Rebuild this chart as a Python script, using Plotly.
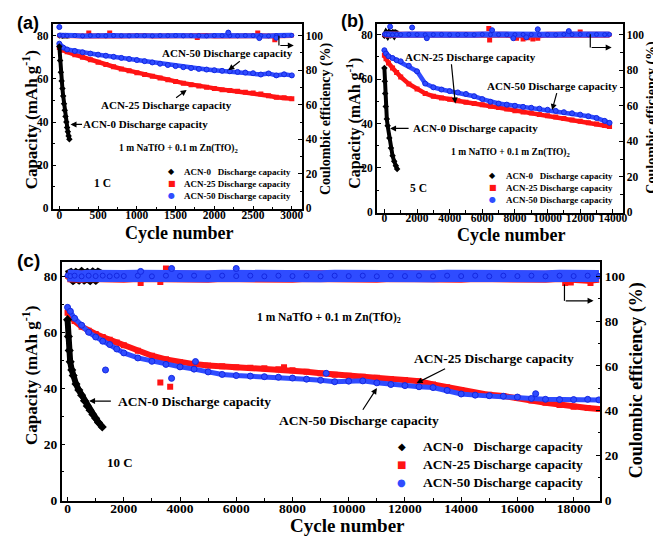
import plotly.graph_objects as go

# ======================= DATA =======================
# ---- (a) 1 C ----
a_cyc0 = [0, 10, 20, 30, 40, 50, 60, 70, 80, 90, 100, 110, 120, 130]
a_cap0 = [75, 68.5, 63, 59, 55.5, 52, 48.5, 45.5, 42.5, 40, 37.5, 35.5, 33.5, 32]
a_eff0_cyc = [0, 20, 40, 60, 80, 100, 120, 130]
a_eff0 = [99.8, 100.2, 99.8, 100, 100.2, 99.8, 100, 100]
a_cyc = [0, 50, 100, 200, 300, 400, 500, 600, 700, 800, 900, 1000, 1100, 1200, 1300, 1400,
         1500, 1600, 1700, 1800, 1900, 2000, 2100, 2200, 2300, 2400, 2500, 2600, 2700, 2800, 2900, 3000]
a_cap25 = [74.5, 73.3, 72.5, 71.2, 70.0, 68.8, 67.7, 66.6, 65.6, 64.6, 63.7, 62.8, 62.0, 61.2, 60.4, 59.6,
           58.8, 58.0, 57.3, 56.7, 56.1, 55.5, 55.0, 54.6, 54.2, 53.8, 53.4, 53.0, 52.2, 51.5, 51.2, 50.8]
a_cap50 = [76.3, 74.5, 73.6, 72.9, 72.3, 71.7, 71.2, 70.7, 70.2, 69.7, 69.2, 68.7, 68.2, 67.6, 67.0, 66.4,
           65.9, 65.4, 65.0, 64.6, 64.3, 64.0, 63.7, 63.5, 63.2, 62.9, 62.6, 62.0, 62.5, 61.6, 62.1, 61.6]
a_eff25 = [100.1, 99.9, 100.1, 100, 99.9, 100.1, 100, 100.1, 100, 99.9, 100.1, 100, 100.1, 99.9, 100, 100.1,
           99.9, 100.1, 100, 100, 100.1, 99.9, 100, 100.1, 99.9, 100.1, 100, 100, 99.9, 100.1, 100, 100.1]
a_eff50 = [100.3, 100.1, 100, 100.1, 99.9, 100.1, 100, 99.9, 100.1, 100, 99.9, 100.1, 100, 99.9, 100.1, 100,
           100.1, 99.9, 100, 100.1, 99.9, 100.1, 100, 100, 99.9, 100.1, 100, 100.1, 99.9, 100.1, 100, 100.2]
a_out25_cyc = [380, 650, 1780, 2560, 2780]
a_out25_eff = [101.5, 101.6, 99, 101.5, 97.6]
a_out50_cyc = [0, 2180, 2580, 2800]
a_out50_eff = [105, 101.8, 98.6, 98.8]

# ---- (b) 5 C ----
b_cyc0 = [0, 25, 50, 85, 150, 200, 300, 400, 500, 600, 700, 780]
b_cap0 = [65, 59, 53.5, 47.7, 42, 39, 33.5, 29, 25.5, 23, 21, 19.5]
b_eff0_cyc = [0, 100, 200, 300, 400, 500, 600, 700, 800]
b_eff0 = [99, 100.8, 99.5, 101, 100, 100.8, 99.6, 101, 100.5]
b_cyc = [0, 100, 250, 500, 750, 1000, 1500, 2000, 2500, 3000, 3500, 4000, 4500, 5000, 5500, 6000,
         6500, 7000, 7500, 8000, 8500, 9000, 9500, 10000, 10500, 11000, 11500, 12000, 12500, 13000, 13500, 13800]
b_cap25 = [70.7, 69.2, 67.3, 65, 63, 61, 57.8, 55.5, 53.5, 52.3, 51.5, 50.9, 50.3, 49.6, 49, 48.4,
           47.8, 47.2, 46.5, 45.8, 45.2, 44.7, 44.1, 43.5, 42.9, 42.3, 41.6, 41, 40.4, 39.8, 39.1, 38.7]
b_cap50 = [73, 71.5, 70.3, 69.5, 68.5, 68, 66, 63.5, 58, 56.3, 55.3, 54.6, 54, 53.3, 52.3, 51,
           49.8, 49, 48.5, 48, 47.5, 47.1, 46.7, 46.2, 45.7, 45.1, 44.6, 44, 43.3, 42.5, 41.2, 40.3]
b_eff25 = [100, 100.1, 99.9, 100, 100.1, 99.9, 100, 100.1, 99.9, 100, 100.1, 99.9, 100.1, 100, 99.9, 100.1,
           100, 100, 99.9, 99.6, 99.4, 99.5, 99.6, 100, 100.1, 99.9, 100, 100.1, 100, 99.9, 100.1, 100]
b_eff50 = [100.2, 100.1, 100, 99.9, 100.1, 100, 100.1, 100, 99.9, 100, 100.1, 99.9, 100, 100.1, 99.9, 100.1,
           100, 100, 99.9, 100, 100.1, 100, 99.9, 100, 99.9, 100.1, 100, 100.1, 99.9, 100.1, 100, 100.1]
b_out25_cyc = [6400, 6450, 8100, 8500, 8800, 9100, 9400, 12000]
b_out25_eff = [103.5, 97, 98, 97.5, 98.2, 97.6, 98, 101.5]
b_out50_cyc = [350, 1700, 2600, 6600, 7900, 8700, 9400, 11300]
b_out50_eff = [104.5, 104, 98, 102.5, 98, 98.5, 103, 102]

# ---- (c) 10 C ----
c_cyc0 = [0, 30, 60, 94, 150, 200, 300, 400, 500, 600, 700, 800, 900, 1000, 1100, 1235]
c_cap0 = [64.5, 58.5, 53.5, 49.4, 46.5, 44.5, 41.5, 39.3, 37.5, 35.5, 33.6, 32.1, 30.6, 29.2, 27.7, 26.1]
c_eff0_cyc = [0, 100, 200, 300, 400, 500, 600, 700, 800, 900, 1000, 1100, 1200]
c_eff0 = [100, 100.6, 99.5, 100.5, 99.6, 100.7, 99.6, 100.5, 99.5, 100.6, 99.6, 100.7, 100]
c_cyc = [0, 100, 250, 500, 750, 1000, 1250, 1500, 1750, 2000, 2500, 3000, 3500, 4000, 4500, 5000,
         5500, 6000, 6500, 7000, 7500, 8000, 8500, 9000, 9500, 10000, 10500, 11000, 11500, 12000,
         12500, 13000, 13500, 14000, 14500, 15000, 15500, 16000, 16500, 17000, 17500, 18000, 18500, 18900]
c_cap25 = [67, 65.5, 64, 62, 60.5, 59.4, 58.3, 57.3, 56.3, 55.3, 53.4, 51.6, 50.3, 49.3, 48.6, 48.1,
           47.8, 47.5, 47.3, 47.1, 46.8, 46.4, 45.9, 45.3, 44.8, 44.4, 44.1, 43.7, 43.3, 42.9,
           42.5, 41.3, 40.3, 39.3, 38.3, 37.6, 37.2, 36.6, 35.6, 34.8, 34, 33.3, 32.9, 32.5]
c_cap50 = [68.9, 67.5, 65, 62.5, 60, 58.3, 56.8, 55.6, 54, 52.6, 50.8, 49.6, 48.5, 47.6, 46.8, 45.8,
           44.9, 44.5, 44.3, 44.1, 43.9, 43.6, 43.2, 42.8, 42.3, 42.5, 42.6, 41.9, 41.3, 40.9,
           40.5, 40.2, 39.2, 37.9, 37.5, 37.3, 37.1, 36.8, 36.3, 36, 35.9, 35.9, 36, 35.8]
c_eff25 = [100, 99.8, 100.1, 99.8, 100.1, 99.8, 100.1, 99.8, 100.1, 99.8, 100.1, 99.8, 100.1, 99.8, 100.1, 99.8,
           100.1, 99.8, 100.1, 99.8, 100.1, 99.8, 100.1, 99.8, 100.1, 99.8, 100.1, 99.8, 100.1, 99.8,
           100.1, 99.8, 100.1, 99.8, 100.1, 99.8, 100.1, 99.8, 100.1, 99.8, 100.1, 99.5, 99.4, 99.8]
c_eff50 = [100.4, 100.1, 100.3, 100, 100.3, 100.1, 100.3, 100, 100.3, 100.1, 100.3, 100, 100.3, 100.1, 100.3, 100,
           100.3, 100.1, 100.3, 100, 100.3, 100.1, 100.3, 100, 100.3, 100.1, 100.3, 100, 100.3, 100.1,
           100.3, 100, 100.3, 100.1, 100.3, 100, 100.3, 100.1, 100.3, 100, 100.3, 100.1, 100.3, 100.2]
c_out25_eff_cyc = [2600, 3300, 3500, 17700, 17900, 18600]
c_out25_eff = [97, 97.5, 103.5, 97, 97.2, 97]
c_out50_eff_cyc = [2600, 3700, 6000]
c_out50_eff = [102.2, 103.5, 103.5]
c_out25_cyc = [3300, 3650, 7700]
c_out25_cap = [42, 40.5, 47.5]
c_out50_cyc = [1350, 3700, 4550, 9200, 16650]
c_out50_cap = [46.5, 43.5, 49.5, 45.3, 38]

legend_labels = ["ACN-0\u00a0\u00a0\u00a0Discharge capacity",
                 "ACN-25 Discharge capacity",
                 "ACN-50 Discharge capacity"]

# ======================= STYLE / LAYOUT =======================
W, H = 661, 538
SERIF = "Liberation Serif, Times New Roman, Times, DejaVu Serif, serif"
SANS = "Liberation Sans, Arial, DejaVu Sans, sans-serif"
BLACK = "#000000"
RED = "#ff1414"
BLUE = "#2f4cff"
BLUE_EDGE = "#1428e0"


def px(x):
    return x / W


def py(y):
    return 1 - y / H


fig = go.Figure()


def series(xa, ya, x, y, color, symbol, size, lw, edge=None, mode="lines+markers"):
    fig.add_trace(go.Scatter(
        x=x, y=y, xaxis=xa, yaxis=ya, mode=mode,
        line=dict(color=color, width=lw),
        marker=dict(symbol=symbol, size=size, color=color,
                    line=dict(color=edge if edge else color, width=1 if edge else 0)),
        showlegend=False, hoverinfo="skip"))


def dots(xa, ya, x, y, color, symbol, size, edge=None):
    series(xa, ya, x, y, color, symbol, size, 0, edge, mode="markers")


# ---- panel (a)
series("x", "y2", a_eff0_cyc, a_eff0, BLACK, "diamond", 4, 5)
series("x", "y2", a_cyc, a_eff25, RED, "square", 4, 5)
dots("x", "y2", a_out25_cyc, a_out25_eff, RED, "square", 5)
series("x", "y2", a_cyc, a_eff50, BLUE, "circle", 4, 5, BLUE_EDGE)
dots("x", "y2", a_out50_cyc, a_out50_eff, BLUE, "circle", 5, BLUE_EDGE)
series("x", "y", a_cyc, a_cap25, RED, "square", 5, 4.5)
series("x", "y", a_cyc, a_cap50, BLUE, "circle", 5, 4.5, BLUE_EDGE)
series("x", "y", a_cyc0, a_cap0, BLACK, "diamond", 5, 4)
# ---- panel (b)
series("x2", "y4", b_eff0_cyc, b_eff0, BLACK, "diamond", 4, 6)
series("x2", "y4", b_cyc, b_eff25, RED, "square", 4, 6)
dots("x2", "y4", b_out25_cyc, b_out25_eff, RED, "square", 5)
series("x2", "y4", b_cyc, b_eff50, BLUE, "circle", 4, 6, BLUE_EDGE)
dots("x2", "y4", b_out50_cyc, b_out50_eff, BLUE, "circle", 5, BLUE_EDGE)
series("x2", "y3", b_cyc, b_cap25, RED, "square", 5, 4.5)
series("x2", "y3", b_cyc, b_cap50, BLUE, "circle", 5, 4.5, BLUE_EDGE)
series("x2", "y3", b_cyc0, b_cap0, BLACK, "diamond", 5, 4)
# ---- panel (c)
series("x3", "y6", c_eff0_cyc, c_eff0, BLACK, "diamond", 5, 12)
series("x3", "y6", c_cyc, c_eff25, RED, "square", 5, 12)
dots("x3", "y6", c_out25_eff_cyc, c_out25_eff, RED, "square", 6)
series("x3", "y6", c_cyc, c_eff50, BLUE, "circle", 5, 12, BLUE_EDGE)
dots("x3", "y6", c_out50_eff_cyc, c_out50_eff, BLUE, "circle", 6, BLUE_EDGE)
series("x3", "y5", c_cyc, c_cap25, RED, "square", 6, 6)
dots("x3", "y5", c_out25_cyc, c_out25_cap, RED, "square", 6)
series("x3", "y5", c_cyc, c_cap50, BLUE, "circle", 6, 5, BLUE_EDGE)
dots("x3", "y5", c_out50_cyc, c_out50_cap, BLUE, "circle", 6, BLUE_EDGE)
series("x3", "y5", c_cyc0, c_cap0, BLACK, "diamond", 7, 6)


def tfont(s):
    return dict(family=SERIF, size=s, color="black", weight="bold")


def xax(l, r, rng, dtick, anchor, fs, standoff):
    return dict(domain=[px(l), px(r)], range=rng, anchor=anchor, tick0=0, dtick=dtick,
                tickformat="d", ticklabelstandoff=standoff,
                ticks="inside", ticklen=4, tickwidth=1.2, tickcolor="black",
                showline=True, linecolor="black", linewidth=1.5, mirror=True,
                showgrid=False, zeroline=False, tickfont=tfont(fs),
                minor=dict(ticks="inside", ticklen=2.5, tickwidth=1, tickcolor="black",
                           tick0=0, dtick=dtick / 2))


def yax(top, bot, rng, anchor, fs, side="left", overlay=None):
    d = dict(range=rng, anchor=anchor, tick0=0, dtick=20, side=side, tickformat="d",
             ticks="inside", ticklen=4, tickwidth=1.2, tickcolor="black",
             showline=True, linecolor="black", linewidth=1.5,
             showgrid=False, zeroline=False, tickfont=tfont(fs),
             minor=dict(ticks="inside", ticklen=2.5, tickwidth=1, tickcolor="black",
                        tick0=0, dtick=10))
    if overlay:
        d["overlaying"] = overlay
    else:
        d["domain"] = [py(bot), py(top)]
    return d


fig.update_layout(
    width=W, height=H, margin=dict(l=0, r=0, t=0, b=0),
    paper_bgcolor="white", plot_bgcolor="rgba(0,0,0,0)", showlegend=False,
    xaxis=xax(45, 296, [-86, 3128], 500, "y", 11.5, -6),
    yaxis=yax(16, 204, [-0.46, 85.5], "x", 11.5),
    yaxis2=yax(16, 204, [-0.575, 106.9], "x", 11.5, side="right", overlay="y"),
    xaxis2=xax(371.7, 619.3, [-460, 14600], 2000, "y3", 11.5, -6),
    yaxis3=yax(16, 207.3, [-0.1, 84.9], "x2", 11.5),
    yaxis4=yax(16, 207.3, [-0.125, 106.1], "x2", 11.5, side="right", overlay="y3"),
    xaxis3=xax(54, 596.7, [-212, 18945], 2000, "y5", 13.5, -5),
    yaxis5=yax(257.7, 499, [-0.2, 85], "x3", 13.5),
    yaxis6=yax(257.7, 499, [-0.25, 106.25], "x3", 13.5, side="right", overlay="y5"),
)

ann = []
shapes = []


def text(x, y, s, size, family=SERIF, angle=0, xanchor="center"):
    ann.append(dict(x=px(x), y=py(y), xref="paper", yref="paper", text=s, showarrow=False,
                    textangle=angle, xanchor=xanchor, yanchor="middle",
                    font=dict(family=family, size=size, color="black", weight="bold")))


def arrow(tx, ty, hx, hy):
    ann.append(dict(x=px(hx), y=py(hy), xref="paper", yref="paper", ax=tx - hx, ay=ty - hy,
                    axref="pixel", ayref="pixel", text="", showarrow=True, arrowhead=2,
                    arrowsize=1, arrowwidth=1.2, arrowcolor="black", standoff=0, startstandoff=0,
                    font=dict(size=8)))


def elbow(x, y0, y1, x1):
    shapes.append(dict(type="line", xref="paper", yref="paper", x0=px(x), y0=py(y0),
                       x1=px(x), y1=py(y1), line=dict(color="black", width=1.2)))
    arrow(x, y1, x1, y1)


def legend(gx, tx, rows, size, gsize):
    glyphs = [("\u25c6", BLACK), ("\u25a0", RED), ("\u25cf", BLUE)]
    for (g, col), ry, lab in zip(glyphs, rows, legend_labels):
        ann.append(dict(x=px(gx), y=py(ry), xref="paper", yref="paper", text=g, showarrow=False,
                        xanchor="center", yanchor="middle",
                        font=dict(family="DejaVu Sans", size=gsize, color=col)))
        text(tx, ry, lab, size, xanchor="left")


CAP = "Capacity (mAh g<sup>-1</sup>)"
CE = "Coulombic efficiency (%)"
NA = "1 m NaTfO + 0.1 m Zn(TfO)<sub>2</sub>"
D50 = "ACN-50 Discharge capacity"
D25 = "ACN-25 Discharge capacity"
D0 = "ACN-0 Discharge capacity"

# ---- panel (a) texts
text(20, 15, "(a)", 18, family=SANS)
text(22, 113, CAP, 17, angle=-90)
text(320, 112, CE, 14, angle=-90)
text(172, 228, "Cycle number", 18)
text(221, 46, D50, 11)
arrow(235, 53, 222, 63)
text(160, 98, D25, 11)
arrow(168, 92, 180, 83)
text(139, 118, D0, 11)
arrow(76, 118, 63, 118)
text(172, 142, NA, 9.5)
text(95, 177, "1 C", 11.5)
legend(165, 175, [166, 178, 190], 9, 8)
elbow(273, 28, 38, 288)

# ---- panel (b) texts
text(347, 13, "(b)", 18, family=SANS)
text(348, 117, CAP, 16, angle=-90)
text(648, 111, CE, 14, angle=-90)
text(507, 230, "Cycle number", 18)
text(466, 50, D25, 11)
arrow(446.7, 56, 450.7, 96.7)
text(549, 79, D50, 11)
arrow(553.3, 85, 548.3, 103.3)
text(470.7, 122, D0, 11)
arrow(405, 122, 385, 122)
text(506.7, 146.7, NA, 9.5)
text(413.3, 182.7, "5 C", 11.5)
legend(488.3, 500, [170, 182.3, 194.3], 9, 8)
elbow(586.7, 26.7, 40, 608.3)

# ---- panel (c) texts
text(21, 256, "(c)", 19, family=SANS)
text(22, 372, CAP, 17, angle=-90)
text(633, 377, CE, 18, angle=-90)
text(342, 524, "Cycle number", 19)
text(187.5, 398.3, D0, 13.5)
arrow(105, 398.3, 81.7, 398.3)
text(323, 314, NA, 11.5)
text(354, 418.3, D50, 13.5)
arrow(356.7, 408.3, 371.7, 385)
text(490, 355, D25, 13.5)
arrow(441.7, 365, 411.7, 380)
text(113.3, 460, "10 C", 13)
legend(396.7, 416, [444, 462.7, 481], 13.5, 10)
elbow(560.7, 280, 296.7, 590)

fig.update_layout(annotations=ann, shapes=shapes)
fig.write_html("out.html")
